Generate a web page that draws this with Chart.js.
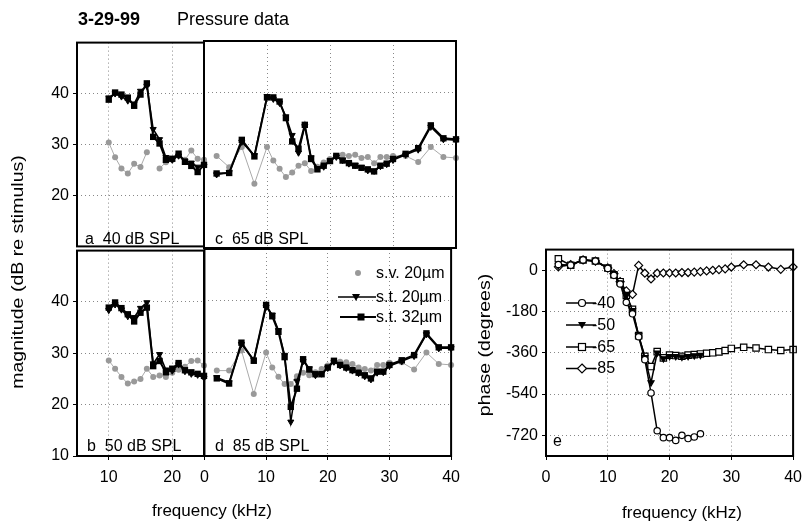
<!DOCTYPE html>
<html>
<head>
<meta charset="utf-8">
<script src="https://cdn.jsdelivr.net/npm/chart.js@4.4.1/dist/chart.umd.min.js"></script>
<style>
  body { margin: 0; background: #fff; }
  #page { position: relative; width: 809px; height: 525px; overflow: hidden; font-family: "Liberation Sans", Arial, sans-serif; color: #000; }
  canvas { position: absolute; }
  .t { position: absolute; white-space: pre; line-height: 1; }
  .c { transform: translate(-50%, -50%); }
  .lg { transform: translateY(-50%); font-size: 16px; }
  .vt { position: absolute; white-space: nowrap; line-height: 1; font-size: 17px; transform: translate(-50%, -50%) rotate(-90deg) scaleX(1.15); }
</style>
</head>
<body>
<div id="page">
  <canvas id="pa"></canvas>
  <canvas id="pb"></canvas>
  <canvas id="pc"></canvas>
  <canvas id="pd"></canvas>
  <canvas id="pe"></canvas>

  <svg width="809" height="525" style="position:absolute;left:0;top:0">
    <circle cx="358" cy="273" r="3" fill="#999"/>
    <line x1="338" y1="297" x2="376" y2="297" stroke="#000" stroke-width="1.6"/>
    <polygon points="352,294 360,294 356,301" fill="#000"/>
    <line x1="340" y1="317" x2="376" y2="317" stroke="#000" stroke-width="2"/>
    <rect x="357.5" y="313.5" width="7" height="7" fill="#000"/>

    <line x1="566" y1="303" x2="596" y2="303" stroke="#000" stroke-width="1.5"/>
    <circle cx="582" cy="303" r="3.5" fill="#fff" stroke="#000" stroke-width="1.2"/>
    <line x1="566" y1="325" x2="596" y2="325" stroke="#000" stroke-width="1.5"/>
    <polygon points="578,322 586,322 582,329" fill="#000"/>
    <line x1="566" y1="347" x2="596" y2="347" stroke="#000" stroke-width="1.5"/>
    <rect x="578.5" y="343.5" width="7" height="7" fill="#fff" stroke="#000" stroke-width="1.2"/>
    <line x1="566" y1="368.5" x2="596" y2="368.5" stroke="#000" stroke-width="1.5"/>
    <polygon points="582,364 586.5,368.5 582,373 577.5,368.5" fill="#fff" stroke="#000" stroke-width="1.2"/>
  </svg>

  <div class="t" style="left:78px;top:10px;font-size:18px;font-weight:bold">3-29-99</div>
  <div class="t" style="left:177px;top:10px;font-size:18px">Pressure data</div>

  <div class="t" style="left:85px;top:231px;font-size:16px">a  40 dB SPL</div>
  <div class="t" style="left:215px;top:231px;font-size:16px">c  65 dB SPL</div>
  <div class="t" style="left:87px;top:438px;font-size:16px">b  50 dB SPL</div>
  <div class="t" style="left:215px;top:438px;font-size:16px">d  85 dB SPL</div>
  <div class="t" style="left:553px;top:433px;font-size:16px">e</div>

  <div class="t lg" style="left:376px;top:273px">s.v. 20µm</div>
  <div class="t lg" style="left:376px;top:297px">s.t. 20µm</div>
  <div class="t lg" style="left:376px;top:317px">s.t. 32µm</div>

  <div class="t lg" style="left:592px;top:303px">-40</div>
  <div class="t lg" style="left:592px;top:325px">-50</div>
  <div class="t lg" style="left:592px;top:347px">-65</div>
  <div class="t lg" style="left:592px;top:368px">-85</div>

  <div class="vt" style="left:17px;top:272px">magnitude (dB re stimulus)</div>
  <div class="vt" style="left:484px;top:345px">phase (degrees)</div>
  <div class="t c" style="left:212px;top:510px;font-size:17px">frequency (kHz)</div>
  <div class="t c" style="left:682px;top:512px;font-size:17px">frequency (kHz)</div>
</div>

<script>
// frequencies (kHz)
const freqLow = [10, 11, 12, 13, 14, 15, 16, 17, 18, 19, 20, 21, 22, 23, 24, 25];
const freqFull = [2, 4, 6, 8, 10, 11, 12, 13, 14, 15, 16, 17, 18, 19, 20, 21, 22, 23, 24, 25, 26, 27, 28, 29, 30, 32, 34, 36, 38, 40];

// magnitude (dB re stimulus)
// a: 40 dB SPL
const svA   = [30.4, 27.5, 25.3, 24.3, 26.2, 25.6, 28.5, null, 25.3, 26.5, 27.0, 27.8, 27.0, 28.8, 27.2, 27.0];
const st20A = [39.2, 40.0, 39.4, 38.6, 38.0, 40.5, 41.5, 33.0, 31.0, 27.5, 27.0, 27.8, 26.8, 26.4, 25.6, 25.8];
const st32A = [38.8, 40.2, 39.8, 39.2, 37.6, 39.8, 42.0, 31.5, 30.2, 27.0, 27.2, 28.2, 26.6, 25.8, 24.6, 26.0];
// b: 50 dB SPL
const svB   = [28.6, 27.0, 25.4, 24.1, 24.5, 25.0, 27.0, 25.4, 25.7, 25.4, 26.2, 26.8, 27.4, 28.5, 28.6, 27.6];
const st20B = [38.4, 39.5, 38.5, 37.2, 37.0, 38.8, 39.9, 28.0, 29.8, 26.8, 26.6, 27.8, 26.5, 26.0, 25.8, 25.2];
const st32B = [38.9, 39.9, 38.8, 37.6, 36.2, 37.9, 38.9, 27.5, 28.5, 26.3, 27.0, 28.1, 26.7, 26.3, 26.0, 25.6];
// c: 65 dB SPL
const svC   = [27.8, 25.6, 29.5, 22.4, 29.5, 26.9, 25.3, 23.7, 24.6, 25.9, 26.4, 24.9, 25.7, 26.5, 27.2, 27.8, 28.0, 27.8, 28.0, 27.4, 27.6, 26.4, 27.6, 27.6, 27.8, 27.8, 26.6, 29.5, 27.6, 27.4];
const st20C = [24.2, 24.6, 30.5, 27.9, 39.3, 38.8, 38.0, 35.4, 31.8, 28.4, 33.5, 27.5, 25.4, 25.7, 26.9, 27.6, 27.0, 26.3, 26.0, 25.6, 25.0, 24.9, 25.8, 26.2, 27.0, 28.0, 29.0, 33.4, 31.0, 30.8];
const st32C = [24.4, 24.5, 30.9, 27.7, 39.1, 39.1, 38.3, 35.1, 30.6, 29.2, 33.8, 27.2, 25.2, 25.9, 26.8, 27.8, 26.9, 26.4, 25.9, 25.5, 25.2, 24.8, 25.9, 26.3, 27.2, 28.2, 29.3, 33.7, 31.2, 31.0];
// d: 85 dB SPL
const svD   = [26.5, 26.5, 30.4, 22.0, 30.0, 27.1, 25.3, 23.9, 23.9, 25.4, 26.1, 25.6, 26.2, 26.8, 27.5, 28.2, 28.2, 28.1, 27.8, 27.1, 26.8, 26.5, 27.6, 27.6, 28.0, 28.1, 26.7, 30.0, 27.8, 27.6];
const st20D = [25.2, 24.2, 31.6, 28.6, 38.8, 37.3, 34.3, 29.5, 16.6, 24.5, 28.3, 26.9, 25.6, 25.9, 27.0, 28.2, 27.5, 27.0, 26.5, 26.0, 25.4, 24.8, 26.1, 26.2, 27.4, 28.3, 29.3, 33.5, 30.8, 30.8];
const st32D = [25.0, 24.0, 31.9, 28.4, 39.2, 37.0, 34.0, 29.1, 19.5, 23.0, 28.7, 26.7, 25.8, 25.8, 27.1, 28.4, 27.6, 27.1, 26.6, 26.1, 25.6, 25.0, 26.3, 26.3, 27.6, 28.5, 29.5, 33.7, 31.0, 31.0];

// e: phase (degrees)
const freqPh = [2, 4, 6, 8, 10, 11, 12, 13, 14, 15, 16, 17, 18, 19, 20, 21, 22, 23, 24, 25];
const ph40 = [25, 22, 45, 40, 8, -22, -60, -140, -190, -290, -390, -535, -700, -730, -730, -742, -720, -734, -727, -713];
const ph50 = [20, 22, 45, 40, 10, -20, -55, -110, -175, -285, -380, -490, -360, -385, -375, -375, -378, -375, -372, -370];
const ph65 = [50, 22, 45, 40, 10, -20, -50, -110, -170, -285, -375, -420, -355, -382, -370, -372, -375, -370, -368, -365, -362, -360, -356, -350, -341, -336, -339, -346, -350, -346];
const ph85 = [15, 25, 45, 40, 10, -15, -50, -90, -105, 21, -13, -38, -13, -12, -12, -12, -10, -10, -8, -6, -3, 0, 3, 6, 14, 24, 24, 14, 4, 14];

const magTicksTop = [20, 30, 40];
const magTicksBottom = [10, 20, 30, 40];
const phaseTicks = [-720, -540, -360, -180, 0];

Chart.defaults.font.family = '"Liberation Sans", Arial, sans-serif';
Chart.defaults.font.size = 16;
Chart.defaults.color = '#000';

// box round every panel
const frame = {
  id: 'frame',
  afterDraw(chart) {
    const { ctx, chartArea: a } = chart;
    ctx.save();
    ctx.strokeStyle = '#000';
    ctx.lineWidth = 2;
    ctx.strokeRect(a.left, a.top, a.right - a.left, a.bottom - a.top);
    ctx.restore();
  }
};

function pts(xs, ys) {
  return xs.map((x, i) => ({ x: x, y: ys[i] }));
}

function fixTicks(vals) {
  return s => { s.ticks = vals.map(v => ({ value: v })); };
}

function grayDs(xs, ys) {
  return { data: pts(xs, ys), borderColor: '#aaa', borderWidth: 1, pointStyle: 'circle', pointRadius: 3,
    pointBackgroundColor: '#999', pointBorderColor: '#999', pointBorderWidth: 0, order: 2, clip: false };
}
function triDs(xs, ys) {
  return { data: pts(xs, ys), borderColor: '#000', borderWidth: 1.5, pointStyle: 'triangle', pointRotation: 180,
    pointRadius: 3.5, pointBackgroundColor: '#000', pointBorderColor: '#000', pointBorderWidth: 1, order: 1, clip: false };
}
function sqDs(xs, ys) {
  return { data: pts(xs, ys), borderColor: '#000', borderWidth: 2, pointStyle: 'rect',
    pointRadius: 4.5, pointBackgroundColor: '#000', pointBorderColor: '#000', pointBorderWidth: 0, order: 0, clip: false };
}
function phDs(xs, ys, style, fill, r) {
  return { data: pts(xs, ys), borderColor: '#000', borderWidth: 1.5, pointStyle: style, pointRotation: style === 'triangle' ? 180 : 0,
    pointRadius: r, pointBackgroundColor: fill, pointBorderColor: '#000', pointBorderWidth: 1.2, clip: false };
}

const PAD = 12;

function makePanel(id, box, cfg) {
  const yw = cfg.yLabels ? cfg.yw : 0;
  const xh = cfg.xLabels ? 30 : 0;
  const cv = document.getElementById(id);
  const w = box.x1 - box.x0 + yw + 2 * PAD;
  const h = box.y1 - box.y0 + xh + 2 * PAD;
  cv.width = w;
  cv.height = h;
  cv.style.width = w + 'px';
  cv.style.height = h + 'px';
  cv.style.left = (box.x0 - yw - PAD) + 'px';
  cv.style.top = (box.y0 - PAD) + 'px';

  return new Chart(cv, {
    type: 'line',
    data: { datasets: cfg.datasets },
    options: {
      responsive: false,
      animation: false,
      devicePixelRatio: 1,
      layout: { padding: PAD },
      plugins: { legend: { display: false }, tooltip: { enabled: false } },
      scales: {
        x: {
          type: 'linear', min: cfg.xMin, max: cfg.xMax,
          afterBuildTicks: fixTicks(cfg.xTicks),
          afterFit: s => { s.height = xh; },
          grid: { color: '#888', lineWidth: 1, drawTicks: cfg.xLabels, tickLength: 4, tickColor: '#000', tickBorderDash: [] },
          border: { display: false, dash: [1, 3] },
          ticks: { display: cfg.xLabels, padding: 8, maxRotation: 0 }
        },
        y: {
          type: 'linear', min: cfg.yMin, max: cfg.yMax,
          afterBuildTicks: fixTicks(cfg.yTicks),
          afterFit: s => { s.width = yw; },
          grid: { color: '#888', lineWidth: 1, drawTicks: cfg.yLabels, tickLength: 4, tickColor: '#000', tickBorderDash: [] },
          border: { display: false, dash: [1, 3] },
          ticks: { display: cfg.yLabels, padding: 4 }
        }
      }
    },
    plugins: [frame]
  });
}

makePanel('pa', { x0: 77, y0: 41, x1: 204, y1: 248 }, {
  xMin: 5, xMax: 25, xTicks: [10, 20], xLabels: false,
  yMin: 10, yMax: 50, yTicks: magTicksTop, yLabels: true, yw: 40,
  datasets: [grayDs(freqLow, svA), triDs(freqLow, st20A), sqDs(freqLow, st32A)]
});

makePanel('pb', { x0: 77, y0: 249, x1: 204, y1: 456 }, {
  xMin: 5, xMax: 25, xTicks: [10, 20], xLabels: true,
  yMin: 10, yMax: 50, yTicks: magTicksBottom, yLabels: true, yw: 40,
  datasets: [grayDs(freqLow, svB), triDs(freqLow, st20B), sqDs(freqLow, st32B)]
});

makePanel('pc', { x0: 204, y0: 41, x1: 456, y1: 248 }, {
  xMin: 0, xMax: 40, xTicks: [10, 20, 30], xLabels: false,
  yMin: 10, yMax: 50, yTicks: magTicksTop, yLabels: false,
  datasets: [grayDs(freqFull, svC), triDs(freqFull, st20C), sqDs(freqFull, st32C)]
});

makePanel('pd', { x0: 204, y0: 249, x1: 456, y1: 456 }, {
  xMin: 0, xMax: 40, xTicks: [0, 10, 20, 30, 40], xLabels: true,
  yMin: 10, yMax: 50, yTicks: magTicksTop, yLabels: false,
  datasets: [grayDs(freqFull, svD), triDs(freqFull, st20D), sqDs(freqFull, st32D)]
});

makePanel('pe', { x0: 546, y0: 248, x1: 798, y1: 456 }, {
  xMin: 0, xMax: 40, xTicks: [0, 10, 20, 30, 40], xLabels: true,
  yMin: -810, yMax: 90, yTicks: phaseTicks, yLabels: true, yw: 50,
  datasets: [
    phDs(freqPh, ph40, 'circle', '#fff', 3.2),
    phDs(freqPh, ph50, 'triangle', '#000', 3.5),
    phDs(freqFull, ph65, 'rect', '#fff', 4.5),
    phDs(freqFull, ph85, 'rectRot', '#fff', 4)
  ]
});
</script>
</body>
</html>
